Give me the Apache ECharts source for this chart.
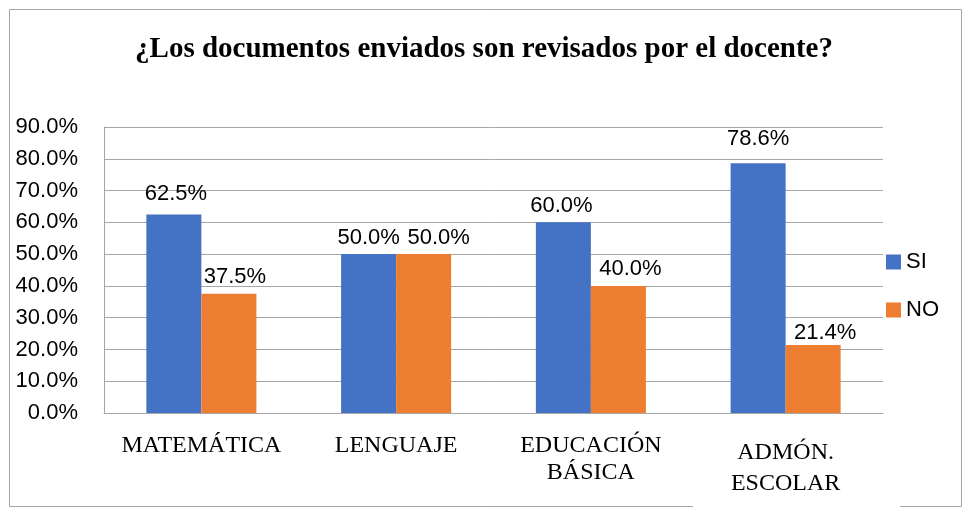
<!DOCTYPE html>
<html><head><meta charset="utf-8">
<script src="https://cdn.jsdelivr.net/npm/echarts@6/dist/echarts.min.js"></script>
<style>html,body{margin:0;padding:0;background:#fff}#c{width:968px;height:510px}</style>
</head><body><div id="c"></div>
<script>
var categories = ['MATEMÁTICA', 'LENGUAJE', 'EDUCACIÓN\nBÁSICA', 'ADMÓN.\nESCOLAR'];
var siValues = [62.5, 50.0, 60.0, 78.6];
var noValues = [37.5, 50.0, 40.0, 21.4];
var yTicks = [0, 10, 20, 30, 40, 50, 60, 70, 80, 90];
// label nudges (style only), as placed in the reference
var siLabelOffsets = [[2, 0], [0, 4], [-2, 4], [0, -4]];
var noLabelOffsets = [[6, 3], [15, 4], [12, 3], [12, 8]];

function withOffsets(values, offsets) {
  return values.map(function (v, i) { return {value: v, label: {offset: offsets[i]}}; });
}

var chart = echarts.init(document.getElementById('c'), null, {renderer: 'canvas'});
var sans = 'Liberation Sans';
var serif = 'Liberation Serif';
var labelCfg = {show: true, position: 'top', distance: 9, fontFamily: sans, fontSize: 22, color: '#000',
  formatter: function (p) { return p.value.toFixed(1) + '%'; }};
chart.setOption({
  animation: false,
  title: {
    text: '¿Los documentos enviados son revisados por el docente?',
    left: 'center', top: 30,
    textStyle: {fontFamily: serif, fontWeight: 'bold', fontSize: 29, color: '#000'}
  },
  graphic: [
    {type: 'rect', z: -10, shape: {x: 9.5, y: 9.5, width: 952, height: 497}, style: {fill: '#fff', stroke: '#a6a6a6', lineWidth: 1}},
    {type: 'rect', z: -5, shape: {x: 693, y: 500, width: 207, height: 10}, style: {fill: '#fff'}}
  ],
  legend: {
    orient: 'vertical', left: 886, top: 251, padding: 0, itemWidth: 15, itemHeight: 15, itemGap: 26,
    icon: 'rect',
    textStyle: {fontFamily: sans, fontSize: 22, color: '#000'},
    data: ['SI', 'NO']
  },
  grid: {left: 104, right: 85, top: 127, bottom: 97, containLabel: false},
  xAxis: {
    type: 'category', data: categories,
    axisLine: {show: true, lineStyle: {color: '#a6a6a6', width: 1}},
    axisTick: {show: false},
    axisLabel: {
      fontFamily: serif, fontSize: 24, color: '#000', margin: 19, lineHeight: 27, interval: 0,
      formatter: function (v, i) { return i === 3 ? '{b|' + v + '}' : v; },
      rich: {b: {fontFamily: serif, fontSize: 24, color: '#000', lineHeight: 31, padding: [10, 0, 0, 0]}}
    }
  },
  yAxis: {
    type: 'value', min: yTicks[0], max: yTicks[yTicks.length - 1], interval: 10,
    axisLine: {show: true, lineStyle: {color: '#a6a6a6', width: 1}},
    axisTick: {show: false},
    splitLine: {lineStyle: {color: '#a6a6a6', width: 1}},
    axisLabel: {fontFamily: sans, fontSize: 22, color: '#000', margin: 26,
      formatter: function (v) { return v.toFixed(1) + '%'; }}
  },
  series: [
    {name: 'SI', type: 'bar', data: withOffsets(siValues, siLabelOffsets), barGap: '0%', barCategoryGap: '43.5%',
      itemStyle: {color: '#4472C4'}, label: labelCfg},
    {name: 'NO', type: 'bar', data: withOffsets(noValues, noLabelOffsets), barGap: '0%', barCategoryGap: '43.5%',
      itemStyle: {color: '#ED7D31'}, label: labelCfg}
  ]
});
</script></body></html>
